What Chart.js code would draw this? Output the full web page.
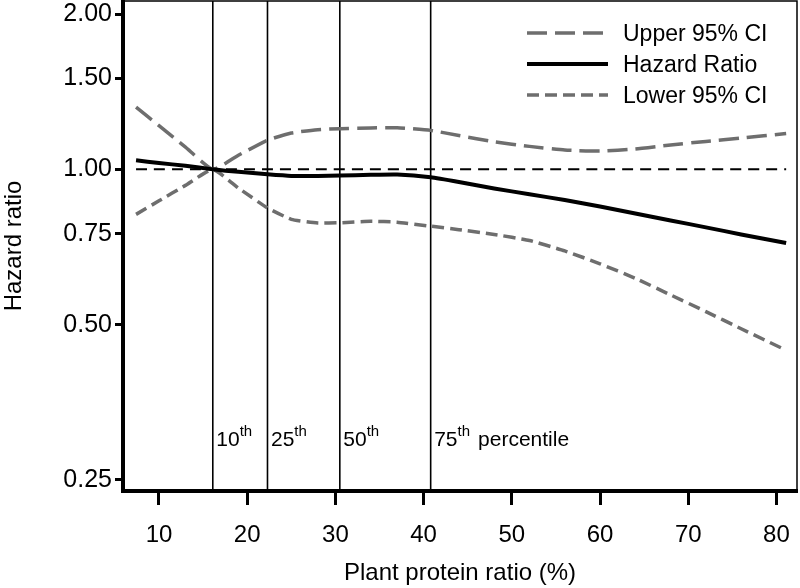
<!DOCTYPE html>
<html>
<head>
<meta charset="utf-8">
<script src="https://cdn.jsdelivr.net/npm/chart.js@4.4.1/dist/chart.umd.min.js"></script>
<style>
  html, body { margin: 0; padding: 0; background: #fff; }
  canvas { display: block; }
</style>
</head>
<body>
<canvas id="chartCanvas" width="800" height="588"></canvas>
<script>
// values
const xValues = [7.4, 10, 13, 16.1, 19, 22.3, 25, 28, 30.5, 34, 37, 40.8, 44, 48, 52, 56, 60, 64, 68, 72, 76, 81.1];
const upperCI = [1.32, 1.215, 1.104, 1.0, 1.065, 1.139, 1.176, 1.194, 1.199, 1.203, 1.204, 1.19, 1.163, 1.131, 1.108, 1.09, 1.085, 1.095, 1.115, 1.133, 1.15, 1.173];
const hazardRatio = [1.041, 1.029, 1.016, 1.0, 0.989, 0.978, 0.971, 0.971, 0.973, 0.976, 0.977, 0.965, 0.945, 0.918, 0.895, 0.872, 0.847, 0.821, 0.796, 0.772, 0.748, 0.72];
const lowerCI = [0.818, 0.869, 0.931, 1.0, 0.92, 0.842, 0.80, 0.787, 0.788, 0.793, 0.79, 0.776, 0.764, 0.748, 0.728, 0.695, 0.656, 0.615, 0.571, 0.53, 0.491, 0.446];

const percentiles = [16.1, 22.3, 30.5, 40.8];
const percentileLabels = ['10', '25', '50', '75'];
const refValue = 1.0;

const xTicks = [10, 20, 30, 40, 50, 60, 70, 80];
const yTicks = [0.25, 0.5, 0.75, 1.0, 1.5, 2.0];
const xMin = 5.92, xMax = 82.33;
const yMin = 0.238, yMax = 2.12;

const gray = '#6e6e6e';
const fontFamily = "'Liberation Sans', Arial, sans-serif";

function toPoints(xs, ys) {
    return xs.map((x, i) => ({ x: x, y: ys[i] }));
}

const datasets = [
    {
        label: 'Hazard Ratio',
        data: toPoints(xValues, hazardRatio),
        borderColor: '#000',
        borderWidth: 4
    },
    {
        label: 'Upper 95% CI',
        data: toPoints(xValues, upperCI),
        borderColor: gray,
        borderWidth: 3.5,
        borderDash: [20, 8]
    },
    {
        label: 'Lower 95% CI',
        data: toPoints(xValues, lowerCI),
        borderColor: gray,
        borderWidth: 3.5,
        borderDash: [12, 6]
    },
    {
        label: 'ref',
        data: [{ x: xValues[0], y: refValue }, { x: xValues[xValues.length - 1], y: refValue }],
        borderColor: '#000',
        borderWidth: 2,
        borderDash: [11, 7]
    }
];

percentiles.forEach(p => {
    datasets.push({
        label: 'p' + p,
        data: [{ x: p, y: yMin }, { x: p, y: yMax }],
        borderColor: '#000',
        borderWidth: 1.6
    });
});

// legend in the top right corner, drawn by hand
const legendOrder = ['Upper 95% CI', 'Hazard Ratio', 'Lower 95% CI'];
const legendPlugin = {
    id: 'cornerLegend',
    afterDraw(chart) {
        const ctx = chart.ctx;
        ctx.save();
        legendOrder.forEach((name, i) => {
            const ds = chart.data.datasets.find(d => d.label === name);
            const y = 33 + i * 31;
            ctx.beginPath();
            ctx.strokeStyle = ds.borderColor;
            ctx.lineWidth = ds.borderWidth;
            ctx.setLineDash(ds.borderDash || []);
            ctx.moveTo(527, y);
            ctx.lineTo(608, y);
            ctx.stroke();
            ctx.setLineDash([]);
            ctx.fillStyle = '#000';
            ctx.font = '23px ' + fontFamily;
            ctx.textBaseline = 'alphabetic';
            ctx.textAlign = 'left';
            ctx.fillText(name, 623, y + 8.3);
        });
        ctx.restore();
    }
};

// top and right frame, percentile labels
const framePlugin = {
    id: 'frame',
    afterDatasetsDraw(chart) {
        const ctx = chart.ctx;
        const area = chart.chartArea;
        const xs = chart.scales.x;
        ctx.save();
        ctx.strokeStyle = '#000';
        ctx.lineWidth = 1.5;
        ctx.beginPath();
        ctx.moveTo(area.left, area.top);
        ctx.lineTo(area.right, area.top);
        ctx.lineTo(area.right, area.bottom);
        ctx.stroke();

        ctx.fillStyle = '#000';
        ctx.textBaseline = 'alphabetic';
        ctx.textAlign = 'left';
        const base = 446;
        percentiles.forEach((p, i) => {
            let x = xs.getPixelForValue(p) + 3.5;
            ctx.font = '21px ' + fontFamily;
            ctx.fillText(percentileLabels[i], x, base);
            x += ctx.measureText(percentileLabels[i]).width;
            ctx.font = '15px ' + fontFamily;
            ctx.fillText('th', x, base - 10);
            x += ctx.measureText('th').width;
            if (i === percentiles.length - 1) {
                ctx.font = '21px ' + fontFamily;
                ctx.fillText('percentile', x + 8, base);
            }
        });
        ctx.restore();
    }
};

const ctx = document.getElementById('chartCanvas').getContext('2d');
new Chart(ctx, {
    type: 'line',
    data: { datasets: datasets },
    options: {
        responsive: false,
        animation: false,
        devicePixelRatio: 1,
        layout: { padding: { top: 1, right: 3, bottom: 0, left: 0 } },
        elements: {
            point: { radius: 0, hoverRadius: 0 },
            line: { tension: 0.15, fill: false, borderCapStyle: 'butt' }
        },
        plugins: {
            legend: { display: false },
            tooltip: { enabled: false }
        },
        scales: {
            x: {
                type: 'linear',
                min: xMin,
                max: xMax,
                afterBuildTicks: scale => { scale.ticks = xTicks.map(v => ({ value: v })); },
                afterFit: scale => {
                    scale.height = 97;
                    scale.paddingLeft = 0;
                    scale.paddingRight = 0;
                },
                ticks: {
                    color: '#000',
                    font: { family: fontFamily, size: 24 },
                    padding: 16,
                    maxRotation: 0,
                    callback: v => String(v)
                },
                grid: { drawOnChartArea: false, drawTicks: true, tickLength: 14, tickWidth: 3, tickColor: '#000' },
                border: { display: true, color: '#000', width: 4 },
                title: {
                    display: true,
                    text: 'Plant protein ratio (%)',
                    color: '#000',
                    font: { family: fontFamily, size: 24 },
                    padding: { top: 0, bottom: 0 }
                }
            },
            y: {
                type: 'logarithmic',
                min: yMin,
                max: yMax,
                afterBuildTicks: scale => { scale.ticks = yTicks.map(v => ({ value: v })); },
                afterFit: scale => {
                    scale.width = 123;
                    scale.paddingTop = 0;
                    scale.paddingBottom = 0;
                },
                ticks: {
                    color: '#000',
                    font: { family: fontFamily, size: 25 },
                    padding: 3,
                    callback: v => Number(v).toFixed(2)
                },
                grid: { drawOnChartArea: false, drawTicks: true, tickLength: 8, tickWidth: 3, tickColor: '#000' },
                border: { display: true, color: '#000', width: 4 },
                title: {
                    display: true,
                    text: 'Hazard ratio',
                    color: '#000',
                    font: { family: fontFamily, size: 24 },
                    padding: { top: 0, bottom: 0 }
                }
            }
        }
    },
    plugins: [legendPlugin, framePlugin]
});
</script>
</body>
</html>
